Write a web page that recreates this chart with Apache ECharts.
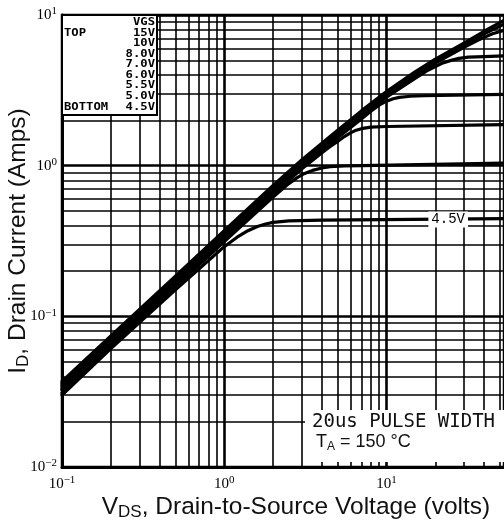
<!DOCTYPE html>
<html><head><meta charset="utf-8">
<script src="https://cdn.jsdelivr.net/npm/echarts@6/dist/echarts.min.js"></script>
<style>html,body{margin:0;padding:0;background:#fff}#c{width:504px;height:524px}</style>
</head><body><div id="c"></div>
<script>
// VGS legend entries (top to bottom)
const legendVgs = ['15V', '10V', '8.0V', '7.0V', '6.0V', '5.5V', '5.0V', '4.5V'];
// Curves: [VDS (V), ID (A)]
const curve15V = [[0.1,0.037],[0.2,0.074],[0.5,0.185],[1,0.37],[2,0.74],[3,1.09],[5,1.72],[7,2.31],[10,3.1],[15,4.2],[20,5.1],[30,6.5],[40,7.8],[53,9.2]];
const curve10V = [[0.1,0.036],[0.2,0.072],[0.5,0.18],[1,0.36],[2,0.72],[3,1.06],[5,1.67],[7,2.25],[10,3.0],[15,4.05],[20,4.95],[30,6.3],[40,7.5],[53,8.7]];
const curve8V  = [[0.1,0.035],[0.2,0.07],[0.5,0.175],[1,0.35],[2,0.7],[3,1.03],[5,1.63],[7,2.18],[10,2.93],[15,3.95],[20,4.8],[30,6.1],[36,6.75],[40,7.1],[45,7.5],[53,7.9]];
const curve7V  = [[0.1,0.034],[0.2,0.068],[0.5,0.17],[1,0.34],[2,0.68],[3,1.0],[5,1.58],[7,2.12],[10,2.85],[15,3.8],[18,4.3],[20,4.55],[22,4.78],[25,5.0],[28,5.15],[32,5.25],[40,5.3],[53,5.35]];
const curve6V  = [[0.1,0.033],[0.2,0.066],[0.5,0.165],[1,0.33],[2,0.66],[3,0.97],[5,1.53],[7,2.04],[8,2.3],[9,2.52],[10,2.68],[11,2.78],[12,2.84],[14,2.89],[17,2.91],[53,2.97]];
const curve55V = [[0.1,0.0325],[0.2,0.065],[0.5,0.162],[1,0.323],[2,0.65],[3,0.95],[4,1.22],[4.5,1.34],[5,1.45],[5.5,1.56],[6,1.65],[6.5,1.72],[7,1.76],[8,1.8],[10,1.82],[53,1.87]];
const curve5V  = [[0.1,0.031],[0.2,0.063],[0.5,0.157],[1,0.313],[2,0.62],[2.5,0.76],[2.8,0.83],[3.1,0.885],[3.5,0.93],[4,0.965],[4.5,0.985],[5.5,0.995],[7,1.0],[53,1.04]];
const curve45V = [[0.1,0.030],[0.2,0.061],[0.5,0.15],[1,0.29],[1.2,0.335],[1.4,0.37],[1.6,0.395],[1.8,0.41],[2,0.42],[2.5,0.43],[4,0.435],[53,0.445]];
const curves = [curve15V, curve10V, curve8V, curve7V, curve6V, curve55V, curve5V, curve45V];
// Grid (minor) lines of the log-log paper
const xMinorLines = [0.2,0.3,0.4,0.5,0.6,0.7,0.8,0.9,2,3,4,5,6,7,8,9,20,30,40,50];
const yMinorLines = [0.02,0.03,0.04,0.05,0.06,0.07,0.08,0.09,0.2,0.3,0.4,0.5,0.6,0.7,0.8,0.9,2,3,4,5,6,7,8,9];
const xRange = [0.1, 53];
const yRange = [0.01, 10];
const labelPoint = [24, 0.44];
const noteLine1 = '20us PULSE WIDTH';

function decadeLabel(v) {
  const e = Math.log10(v);
  const r = Math.round(e);
  if (Math.abs(e - r) > 1e-6) return '';
  return '{b|10}{s|' + (r < 0 ? '\u2212' + (-r) : r) + '}';
}
const tickRich = {
  b: { fontFamily: 'Liberation Serif', fontSize: 15, color: '#000', lineHeight: 18 },
  s: { fontFamily: 'Liberation Serif', fontSize: 11, color: '#000', verticalAlign: 'top', lineHeight: 18 }
};
const titleRich = {
  a: { fontFamily: 'Liberation Sans', fontSize: 24.5, color: '#111', lineHeight: 28 },
  s: { fontFamily: 'Liberation Sans', fontSize: 17, color: '#111', verticalAlign: 'bottom', lineHeight: 28 }
};

const chart = echarts.init(document.getElementById('c'), null, { renderer: 'canvas' });
const series = curves.map((d, i) => ({
  type: 'line', name: legendVgs[i], data: d, smooth: false,
  showSymbol: false, symbol: 'none', z: 3,
  lineStyle: { color: '#000', width: 3.2, join: 'round', cap: 'round' }
}));
// label on the bottom curve
series[7].markPoint = {
  z: 10, symbol: 'rect', symbolSize: 0,
  data: [{ coord: labelPoint }],
  label: { show: true, position: 'inside', formatter: legendVgs[7], fontFamily: 'Liberation Mono', fontSize: 14, color: '#000', backgroundColor: '#fff', padding: [1, 3, 1, 3] }
};
// grid lines
series.push({
  type: 'line', data: [[1, 1]], showSymbol: false, symbol: 'none', z: 1,
  lineStyle: { opacity: 0 },
  markLine: {
    silent: true, symbol: ['none', 'none'], z: 1, label: { show: false },
    lineStyle: { color: '#000', width: 1.6, type: 'solid' },
    emphasis: { disabled: true },
    data: xMinorLines.map(v => ({ xAxis: v })).concat(yMinorLines.map(v => ({ yAxis: v })))
  }
});

// legend box texts
const legendRowsY = [22, 33, 43.5, 54, 64.5, 75, 85.5, 96, 107];
const legendFont = 'bold 10px "DejaVu Sans Mono"';
const lsx = 1.22;
const legendTexts = [{ type: 'text', x: 155, y: legendRowsY[0], scaleX: lsx, z: 101,
  style: { text: 'VGS', font: legendFont, align: 'right', textAlign: 'right', verticalAlign: 'middle', textVerticalAlign: 'middle', fill: '#000' } }];
legendVgs.forEach((t, i) => {
  legendTexts.push({ type: 'text', x: 155, y: legendRowsY[i + 1], scaleX: lsx, z: 101,
    style: { text: t, font: legendFont, align: 'right', textAlign: 'right', verticalAlign: 'middle', textVerticalAlign: 'middle', fill: '#000' } });
});
legendTexts.push({ type: 'text', x: 64, y: legendRowsY[1], scaleX: lsx, z: 101,
  style: { text: 'TOP', font: legendFont, align: 'left', textAlign: 'left', verticalAlign: 'middle', textVerticalAlign: 'middle', fill: '#000' } });
legendTexts.push({ type: 'text', x: 64, y: legendRowsY[8], scaleX: lsx, z: 101,
  style: { text: 'BOTTOM', font: legendFont, align: 'left', textAlign: 'left', verticalAlign: 'middle', textVerticalAlign: 'middle', fill: '#000' } });

chart.setOption({
  animation: false,
  backgroundColor: '#fff',
  grid: { left: 62, right: 0, top: 15, bottom: 57, containLabel: false, outerBoundsMode: 'none',
    show: true, borderColor: '#000', borderWidth: 2.5, backgroundColor: 'transparent' },
  xAxis: {
    type: 'log', logBase: 10, min: xRange[0], max: xRange[1],
    axisLine: { show: true, onZero: false, lineStyle: { color: '#000', width: 3 } },
    axisTick: { show: false },
    splitLine: { show: true, lineStyle: { color: '#000', width: 2.6 } },
    axisLabel: { margin: 8, formatter: decadeLabel, rich: tickRich, showMinLabel: true, hideOverlap: false },
    name: '{a|V}{s|DS}{a|, Drain-to-Source Voltage (volts)}',
    nameLocation: 'middle', nameGap: 26, nameMoveOverlap: false,
    nameTextStyle: { rich: titleRich, padding: [0, 0, 0, 26] }
  },
  yAxis: {
    type: 'log', logBase: 10, min: yRange[0], max: yRange[1],
    axisLine: { show: true, onZero: false, lineStyle: { color: '#000', width: 3 } },
    axisTick: { show: false },
    splitLine: { show: true, lineStyle: { color: '#000', width: 2.6 } },
    axisLabel: { margin: 5, formatter: decadeLabel, rich: tickRich, hideOverlap: false },
    name: '{a|I}{s|D}{a|, Drain Current (Amps)}',
    nameLocation: 'middle', nameGap: 30, nameMoveOverlap: false,
    nameTextStyle: { rich: titleRich }
  },
  series: series,
  graphic: [
    { type: 'rect', z: 100, shape: { x: 62, y: 15, width: 95, height: 100 }, style: { fill: '#fff', stroke: '#000', lineWidth: 2 } },
    ...legendTexts,
    { type: 'rect', z: 100, shape: { x: 305, y: 410, width: 199, height: 52 }, style: { fill: '#fff', stroke: null } },
    { type: 'text', z: 101, x: 312, y: 422,
      style: { text: noteLine1, font: '19px "DejaVu Sans Mono"', align: 'left', textAlign: 'left', verticalAlign: 'middle', textVerticalAlign: 'middle', fill: '#111' } },
    { type: 'text', z: 101, x: 316, y: 442,
      style: { text: '{a|T}{s|A}{a| = 150 \u00b0C}', align: 'left', textAlign: 'left', verticalAlign: 'middle', textVerticalAlign: 'middle',
        rich: { a: { fontFamily: 'Liberation Sans', fontSize: 18, fill: '#111', color: '#111', lineHeight: 22 },
                s: { fontFamily: 'Liberation Sans', fontSize: 12, fill: '#111', color: '#111', verticalAlign: 'bottom', lineHeight: 22 } } } }
  ]
});
</script>
</body></html>
